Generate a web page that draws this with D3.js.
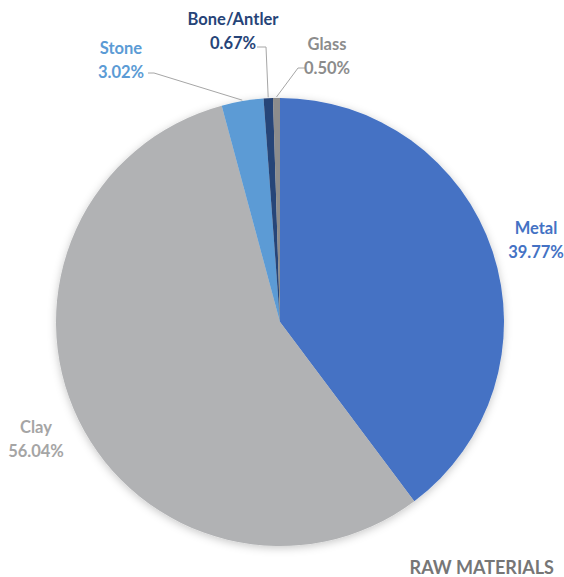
<!DOCTYPE html>
<html>
<head>
<meta charset="utf-8">
<script src="https://cdn.jsdelivr.net/npm/d3@7"></script>
<style>
  html, body { margin: 0; padding: 0; background: #fff; }
  svg { display: block; }
  text { font-family: Lato, "Open Sans", "Liberation Sans", sans-serif; font-weight: 700; }
</style>
</head>
<body>
<script>
// Raw material shares (percent), drawn clockwise from 12 o'clock
const categories = ["Metal", "Clay", "Stone", "Bone/Antler", "Glass"];
const shares = [39.77, 56.04, 3.02, 0.67, 0.50];
const sliceColors = ["#4472C4", "#B1B2B4", "#5B9BD5", "#264478", "#8C8C8C"];
const labelColors = ["#4472C4", "#A5A5A5", "#5B9BD5", "#264478", "#8C8C8C"];
const title = "RAW MATERIALS";

const W = 564, H = 577;
const cx = 280, cy = 322, R = 224;

const svg = d3.select("body").append("svg")
  .attr("width", W).attr("height", H);

const defs = svg.append("defs");
const shadow = defs.append("filter").attr("id", "pieShadow")
  .attr("x", "-10%").attr("y", "-10%").attr("width", "120%").attr("height", "120%");
shadow.append("feDropShadow")
  .attr("dx", 0).attr("dy", 2).attr("stdDeviation", 4)
  .attr("flood-color", "#000").attr("flood-opacity", 0.22);

const data = categories.map((c, i) => ({ name: c, value: shares[i], i }));

const pie = d3.pie().sort(null).value(d => d.value);
const arc = d3.arc().innerRadius(0).outerRadius(R);
const arcs = pie(data);

const g = svg.append("g").attr("transform", `translate(${cx},${cy})`);
g.append("g").attr("filter", "url(#pieShadow)")
  .selectAll("path").data(arcs).join("path")
  .attr("d", arc)
  .attr("fill", d => sliceColors[d.data.i]);

// Label anchor points (label centre, first line baseline)
const labelPos = {
  "Metal":       { x: 536, y: 234 },
  "Clay":        { x: 36,  y: 433 },
  "Stone":       { x: 121, y: 54 },
  "Bone/Antler": { x: 233, y: 25 },
  "Glass":       { x: 327, y: 50 }
};

// Leader lines from label side to the slice's outer edge midpoint
const edgePoint = (d, extra) => {
  const a = (d.startAngle + d.endAngle) / 2;
  const r = R + extra;
  return [cx + r * Math.sin(a), cy - r * Math.cos(a)];
};
const leaders = {
  "Stone":       { start: [148, 73], elbow: [154, 73] },
  "Bone/Antler": { start: [257, 47], elbow: [266, 47] },
  "Glass":       { start: [305, 68], elbow: [298, 68] }
};
const lineG = svg.append("g");
arcs.forEach(d => {
  const L = leaders[d.data.name];
  if (!L) return;
  const end = edgePoint(d, 1);
  lineG.append("path")
    .attr("d", d3.line()([L.start, L.elbow, end]))
    .attr("fill", "none")
    .attr("stroke", "#A6A6A6")
    .attr("stroke-width", 1);
});

const labelG = svg.append("g");
arcs.forEach(d => {
  const p = labelPos[d.data.name];
  const t = labelG.append("text")
    .attr("text-anchor", "middle")
    .attr("font-size", 16.5)
    .attr("fill", labelColors[d.data.i]);
  t.append("tspan").attr("x", p.x).attr("y", p.y).text(d.data.name);
  t.append("tspan").attr("x", p.x).attr("dy", 24).text(d3.format(".2f")(d.data.value) + "%");
});

svg.append("text")
  .attr("x", 554).attr("y", 574)
  .attr("text-anchor", "end")
  .attr("font-size", 18)
  .attr("fill", "#767676")
  .text(title);
</script>
</body>
</html>
